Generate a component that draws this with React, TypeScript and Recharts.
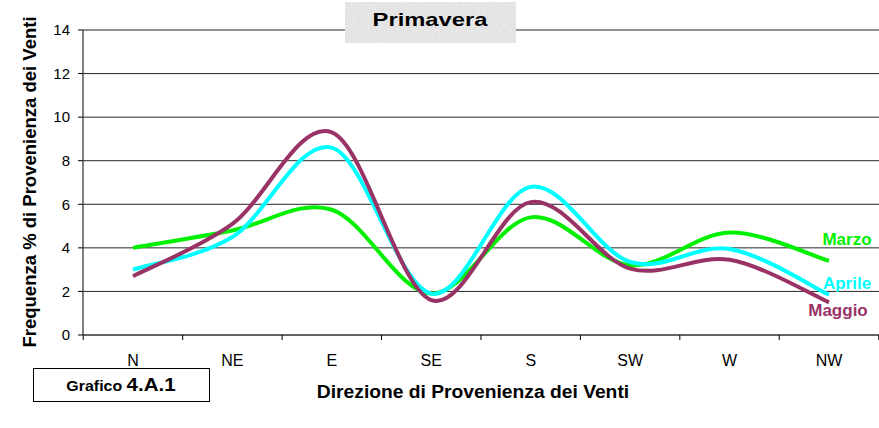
import React from 'react';
import { LineChart, Line, XAxis, YAxis, CartesianGrid } from 'recharts';

const directions = ['N', 'NE', 'E', 'SE', 'S', 'SW', 'W', 'NW'];
const marzo = [4.0, 4.8, 5.75, 1.9, 5.4, 3.2, 4.7, 3.4];
const aprile = [3.0, 4.5, 8.6, 1.9, 6.8, 3.35, 3.95, 1.85];
const maggio = [2.7, 5.1, 9.3, 1.6, 6.1, 3.05, 3.45, 1.5];
const yTicks = [0, 2, 4, 6, 8, 10, 12, 14];

const SERIES = [
  { key: 'Marzo', color: '#00f000', dx: 18, dy: -16 },
  { key: 'Aprile', color: '#00ffff', dx: 18, dy: -6 },
  { key: 'Maggio', color: '#993366', dx: 9, dy: 14 },
];

const data = directions.map((d, i) => ({
  dir: d,
  Marzo: marzo[i],
  Aprile: aprile[i],
  Maggio: maggio[i],
}));

const FONT = 'Arial, "Liberation Sans", sans-serif';
const PLOT_W = 796;

// Excel-style smoothed line (Catmull-Rom through the points)
const smoothCurve = (context: any) => {
  let pts: [number, number][] = [];
  return {
    areaStart() {},
    areaEnd() {},
    lineStart() { pts = []; },
    point(x: number, y: number) { pts.push([x, y]); },
    lineEnd() {
      if (!pts.length) return;
      context.moveTo(pts[0][0], pts[0][1]);
      for (let i = 0; i < pts.length - 1; i++) {
        const p0 = pts[Math.max(i - 1, 0)];
        const p1 = pts[i];
        const p2 = pts[i + 1];
        const p3 = pts[Math.min(i + 2, pts.length - 1)];
        context.bezierCurveTo(
          p1[0] + (p2[0] - p0[0]) / 6, p1[1] + (p2[1] - p0[1]) / 6,
          p2[0] - (p3[0] - p1[0]) / 6, p2[1] - (p3[1] - p1[1]) / 6,
          p2[0], p2[1]
        );
      }
    },
  };
};

// category label in the middle, tick marks on the band edges
const DirTick = ({ x, y, payload, index }: any) => {
  const half = PLOT_W / directions.length / 2;
  return (
    <g>
      <line x1={x - half} y1={y} x2={x - half} y2={y + 5} stroke="#000" />
      {index === directions.length - 1 && <line x1={x + half} y1={y} x2={x + half} y2={y + 5} stroke="#000" />}
      <text x={x} y={y + 31} textAnchor="middle" fontSize={16} fontFamily={FONT} fill="#000">{payload.value}</text>
    </g>
  );
};

const endLabel = (name: string, color: string, dx: number, dy: number) => (props: any) => {
  if (props.index !== directions.length - 1) return null;
  return (
    <text x={props.x + dx} y={props.y + dy} textAnchor="middle"
      fontSize={17} fontWeight="bold" fontFamily={FONT} fill={color}>{name}</text>
  );
};

export default function App() {
  return (
    <div style={{ position: 'absolute', left: 0, top: 0, width: 879, height: 428, background: '#fff', overflow: 'hidden' }}>
      <LineChart width={879} height={428} data={data} margin={{ top: 30, right: 0, bottom: 0, left: 0 }}>
        <CartesianGrid vertical={false} stroke="#000" strokeOpacity={0.85} />
        <XAxis dataKey="dir" height={93} padding={{ left: 50, right: 50 }}
          axisLine={{ stroke: '#555', strokeWidth: 1.5 }} tickLine={false}
          tickSize={0} tickMargin={0} tick={<DirTick />} interval={0} />
        <YAxis width={83} domain={[0, 14]} ticks={yTicks} interval={0} tickSize={5} tickMargin={8}
          axisLine={{ stroke: '#555', strokeWidth: 1.5 }} tickLine={{ stroke: '#000' }}
          tick={{ fontSize: 15, fill: '#000', fontFamily: FONT }} />
        {SERIES.map(s => (
          <Line key={s.key} dataKey={s.key} type={smoothCurve as any} stroke={s.color} strokeWidth={4}
            dot={false} activeDot={false} isAnimationActive={false}
            label={endLabel(s.key, s.color, s.dx, s.dy)} />
        ))}
      </LineChart>
      <svg width={879} height={428} style={{ position: 'absolute', left: 0, top: 0, pointerEvents: 'none' }}
        fontFamily={FONT} fontWeight="bold" fill="#000">
        <defs>
          {/* speckled grey like the Excel texture fill */}
          <filter id="grain" x="0" y="0" width="1" height="1">
            <feTurbulence type="fractalNoise" baseFrequency="0.55" numOctaves="3" seed="4" />
            <feColorMatrix type="matrix" values="0 0 0 0 0.6  0 0 0 0 0.6  0 0 0 0 0.6  0.9 0 0 0 -0.35" />
          </filter>
        </defs>
        {/* title box */}
        <rect x={345} y={2} width={171} height={41} fill="#e8e8e8" />
        <rect x={345} y={2} width={171} height={41} filter="url(#grain)" />
        <text transform="translate(430 26) scale(1.25 1)" textAnchor="middle" fontSize={19}>Primavera</text>
        {/* axis titles */}
        <text transform="translate(36 182) rotate(-90)" textAnchor="middle" fontSize={18.5}>Frequenza % di Provenienza dei Venti</text>
        <text transform="translate(473 398) scale(1.07 1)" textAnchor="middle" fontSize={18}>Direzione di Provenienza dei Venti</text>
        {/* chart number box */}
        <rect x={33.5} y={368.5} width={176} height={33} fill="#fff" stroke="#000" />
        <text transform="translate(121 391) scale(1.14 1)" textAnchor="middle">
          <tspan fontSize={14}>Grafico </tspan>
          <tspan fontSize={18}>4.A.1</tspan>
        </text>
      </svg>
    </div>
  );
}
